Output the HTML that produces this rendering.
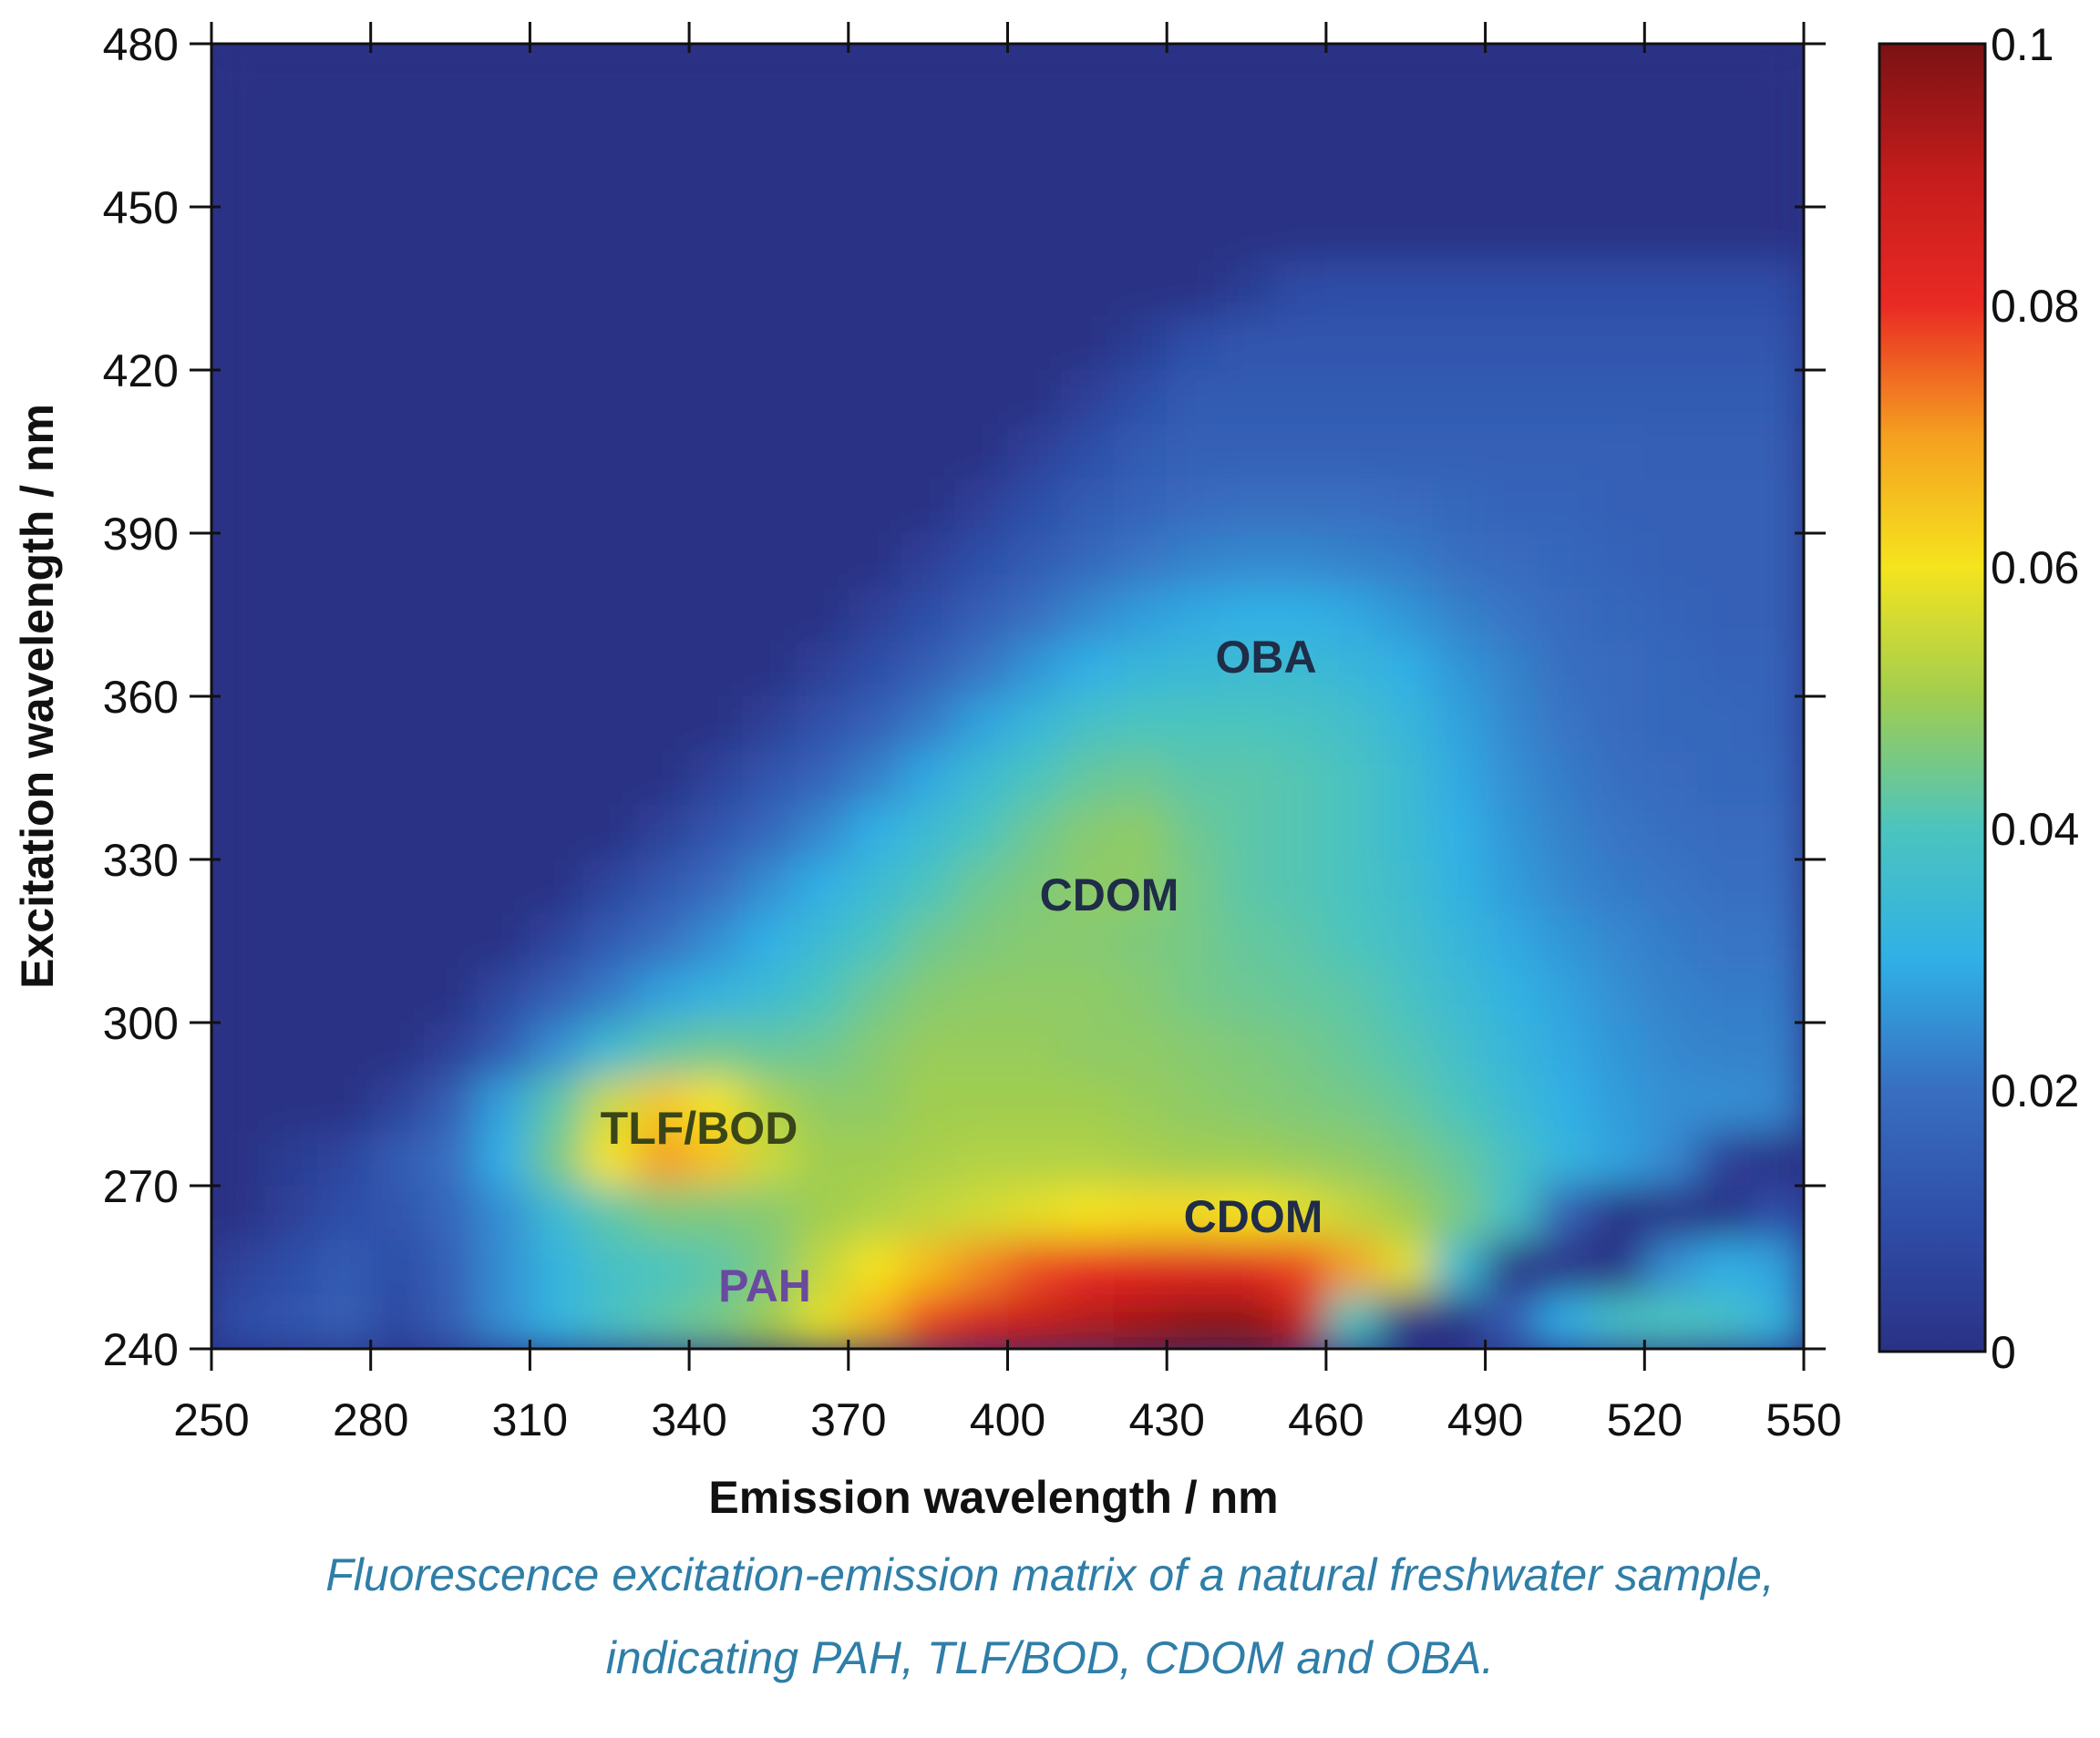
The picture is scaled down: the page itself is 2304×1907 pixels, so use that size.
<!DOCTYPE html>
<html><head><meta charset="utf-8"><title>Fluorescence EEM</title>
<style>
html,body{margin:0;padding:0;background:#fff;}
body{width:2304px;height:1907px;overflow:hidden;position:relative;font-family:"Liberation Sans",sans-serif;}
svg{position:absolute;left:0;top:0;}
.tick{font-family:"Liberation Sans Narrow","Liberation Sans",sans-serif;font-size:50px;fill:#111;}
.title{font-family:"Liberation Sans",sans-serif;font-weight:bold;font-size:50px;fill:#111;}
.ann{font-family:"Liberation Sans",sans-serif;font-weight:bold;font-size:50px;}
.cap{font-family:"Liberation Sans",sans-serif;font-style:italic;font-size:50px;fill:#2f7ea8;}
</style></head>
<body>
<svg id="chart" width="2304" height="1907" viewBox="0 0 2304 1907">
<defs>
<clipPath id="plotClip"><rect x="232" y="48" width="1747" height="1432"/></clipPath>
<filter id="soft" x="0" y="0" width="1" height="1" filterUnits="objectBoundingBox">
<feGaussianBlur stdDeviation="22" edgeMode="duplicate"/>
</filter>
<linearGradient id="cbGrad" x1="0" y1="1" x2="0" y2="0"></linearGradient>
</defs>
<rect x="232" y="48" width="1747" height="1432" fill="#2a3185"/>
<g clip-path="url(#plotClip)"><g id="cells" filter="url(#soft)"></g></g>
<g id="axes"></g>
<rect x="2062" y="48" width="116" height="1435" fill="url(#cbGrad)" stroke="#111" stroke-width="3"/>
<g id="cbTicks"></g>
<text class="title" x="1090" y="1660" text-anchor="middle">Emission wavelength / nm</text>
<text class="title" x="58" y="764" text-anchor="middle" transform="rotate(-90 58 764)">Excitation wavelength / nm</text>
<text class="ann" x="1389" y="738" text-anchor="middle" fill="#1f2d48">OBA</text>
<text class="ann" x="1217" y="999" text-anchor="middle" fill="#1f2d48">CDOM</text>
<text class="ann" x="767" y="1255" text-anchor="middle" fill="#3a4518">TLF/BOD</text>
<text class="ann" x="1375" y="1352" text-anchor="middle" fill="#1f2d48">CDOM</text>
<text class="ann" x="839" y="1428" text-anchor="middle" fill="#6a4a9e">PAH</text>
<text class="cap" x="1152" y="1745" text-anchor="middle">Fluorescence excitation-emission matrix of a natural freshwater sample,</text>
<text class="cap" x="1152" y="1836" text-anchor="middle">indicating PAH, TLF/BOD, CDOM and OBA.</text>
</svg>
<script>
// Data (intensity in units of 0.001)
const emCenters = [255,265,275,285,295,305,315,325,335,345,355,365,375,385,395,405,415,425,435,445,455,465,475,485,495,505,515,525,535,545];
const exCenters = [475,465,455,445,435,425,415,405,395,385,375,365,355,345,335,325,315,305,295,285,275,265,255,245];
const intensity = [
[0,0,0,0,0,0,0,0,0,0,0,0,0,0,0,0,0,0,0,0,0,0,0,0,0,0,0,0,0,0],
[0,0,0,0,0,0,0,0,0,0,0,0,0,0,0,0,0,0,0,0,0,0,0,0,0,0,0,0,0,0],
[0,0,0,0,0,0,0,0,0,0,0,0,0,0,0,0,0,0,0,0,0,0,0,0,0,0,0,0,0,0],
[0,0,0,0,0,0,0,0,0,0,0,0,0,0,0,0,0,0,0,0,0,0,0,0,0,0,0,0,0,0],
[0,0,0,0,0,0,0,0,0,0,0,0,0,0,0,0,0,0,0,4,9,10,10,10,10,10,10,10,10,10],
[0,0,0,0,0,0,0,0,0,0,0,0,0,0,0,0,0,4,10,12,12,12,12,12,12,12,12,12,12,12],
[0,0,0,0,0,0,0,0,0,0,0,0,0,0,0,0,5,10,14,14,14,14,14,14,14,14,14,14,14,14],
[0,0,0,0,0,0,0,0,0,0,0,0,0,0,0,5,10,14,16,16,16,16,16,16,16,16,16,15,15,15],
[0,0,0,0,0,0,0,0,0,0,0,0,0,0,5,10,14,17,19,20,20,20,19,18,17,17,16,16,16,16],
[0,0,0,0,0,0,0,0,0,0,0,0,0,5,10,14,18,21,23,24,24,23,22,20,19,18,17,16,16,16],
[0,0,0,0,0,0,0,0,0,0,0,0,5,10,15,20,24,27,29,30,30,29,26,23,21,19,18,17,16,16],
[0,0,0,0,0,0,0,0,0,0,0,5,10,15,21,26,30,33,34,35,35,33,30,26,23,20,19,18,17,17],
[0,0,0,0,0,0,0,0,0,0,5,11,16,22,28,33,38,40,40,40,39,37,33,28,24,21,19,18,18,17],
[0,0,0,0,0,0,0,0,0,6,12,17,23,29,35,40,43,44,42,42,41,39,35,29,25,22,20,19,18,18],
[0,0,0,0,0,0,0,0,6,12,18,24,30,35,40,44,47,48,44,42,41,39,35,30,26,23,21,20,19,19],
[0,0,0,0,0,0,0,7,13,19,25,30,35,40,44,46,48,48,45,42,41,39,36,31,27,24,22,21,20,20],
[0,0,0,0,0,0,7,14,20,25,30,35,40,44,46,47,47,46,45,43,42,40,37,33,29,26,24,22,21,21],
[0,0,0,0,0,8,15,22,28,32,35,40,44,47,48,48,48,47,45,44,43,42,39,35,31,28,25,23,22,22],
[0,0,0,0,5,14,25,35,42,44,43,44,47,49,49,49,48,48,47,46,45,43,41,37,33,29,26,24,23,23],
[0,0,0,6,15,28,42,55,64,60,52,48,48,50,50,50,50,49,48,47,46,45,43,40,35,30,27,25,25,24],
[0,4,7,14,20,30,45,60,70,65,55,50,50,51,52,52,52,51,50,50,49,48,46,43,38,32,28,24,5,0],
[0,5,10,12,18,25,35,42,46,46,47,50,52,54,56,58,60,61,61,60,58,54,50,45,38,15,0,0,0,10],
[6,10,14,10,16,25,32,38,40,42,46,54,60,66,72,77,80,82,83,82,78,70,58,35,0,0,0,25,30,28],
[10,12,15,8,15,25,32,38,42,45,50,58,68,78,85,89,92,94,97,97,90,40,0,0,15,30,38,40,38,32]
];
const xTickValues = [250,280,310,340,370,400,430,460,490,520,550];
const yTickValues = [240,270,300,330,360,390,420,450,480];
const cbTickValues = [0,0.02,0.04,0.06,0.08,0.1];
const cbTickLabels = ["0","0.02","0.04","0.06","0.08","0.1"];

const NS = "http://www.w3.org/2000/svg";
const PL=232, PR=1979, PT=48, PB=1480;
const X = em => PL + (em-250)/(550-250)*(PR-PL);
const Y = ex => PB - (ex-240)/(480-240)*(PB-PT);
const CBT=48, CBB=1483, CBL=2062, CBR=2178;
const CY = v => CBB - v/0.1*(CBB-CBT);

const stops=[[0,[42,49,133]],[0.1,[47,78,168]],[0.2,[56,110,192]],[0.3,[48,176,230]],[0.4,[76,196,190]],[0.5,[160,205,80]],[0.6,[245,228,30]],[0.7,[245,160,32]],[0.8,[234,42,36]],[0.9,[196,28,28]],[1,[122,18,20]]];
function cmap(t){t=Math.max(0,Math.min(1,t));for(let i=1;i<stops.length;i++){if(t<=stops[i][0]){const a=stops[i-1],b=stops[i];const f=(t-a[0])/(b[0]-a[0]);const c=a[1].map((v,k)=>Math.round(v+(b[1][k]-v)*f));return `rgb(${c[0]},${c[1]},${c[2]})`;}}return "rgb(122,18,20)";}

const cells=document.getElementById('cells');
intensity.forEach((row,r)=>{row.forEach((v,c)=>{
  const em=emCenters[c], ex=exCenters[r];
  const x0=X(em-5), x1=X(em+5), y0=Y(ex+5), y1=Y(ex-5);
  const rc=document.createElementNS(NS,'rect');
  rc.setAttribute('x',x0);rc.setAttribute('y',y0);
  rc.setAttribute('width',x1-x0+0.6);rc.setAttribute('height',y1-y0+0.6);
  rc.setAttribute('fill',cmap(v/100));
  
  
  cells.appendChild(rc);
});});

const grad=document.getElementById('cbGrad');
for(let i=0;i<=50;i++){const s=document.createElementNS(NS,'stop');s.setAttribute('offset',i/50);s.setAttribute('stop-color',cmap(i/50));grad.appendChild(s);}

const axes=document.getElementById('axes');
function line(x1,y1,x2,y2,w,name){const l=document.createElementNS(NS,'line');l.setAttribute('x1',x1);l.setAttribute('y1',y1);l.setAttribute('x2',x2);l.setAttribute('y2',y2);l.setAttribute('stroke','#111');l.setAttribute('stroke-width',w);


axes.appendChild(l);}
function text(x,y,s,anchor,name,parent){const t=document.createElementNS(NS,'text');t.setAttribute('x',x);t.setAttribute('y',y);t.setAttribute('class','tick');t.setAttribute('text-anchor',anchor);t.textContent=s;


(parent||axes).appendChild(t);}
const frame=document.createElementNS(NS,'rect');
frame.setAttribute('x',PL);frame.setAttribute('y',PT);frame.setAttribute('width',PR-PL);frame.setAttribute('height',PB-PT);
frame.setAttribute('fill','none');frame.setAttribute('stroke','#111');frame.setAttribute('stroke-width','3');


axes.appendChild(frame);
xTickValues.forEach(v=>{const x=X(v);
  line(x,PB-10,x,PB+24,3,'x-tick');
  line(x,PT+10,x,PT-24,3,'x-tick-top');
  text(x,1575,String(v),'middle','x-tick-label');});
yTickValues.forEach(v=>{const y=Y(v);
  line(PL-24,y,PL+10,y,3,'y-tick');
  line(PR-10,y,PR+24,y,3,'y-tick-right');
  text(196,y+18,String(v),'end','y-tick-label');});
const cbg=document.getElementById('cbTicks');
cbTickValues.forEach((v,i)=>{const y=CY(v);
  if(i>0&&i<cbTickValues.length-1){line(CBL,y,CBL+15,y,3,'colorbar-tick');line(CBR-15,y,CBR,y,3,'colorbar-tick');}
  text(2184,y+18,cbTickLabels[i],'start','colorbar-tick-label',cbg);});
</script>
</body></html>
